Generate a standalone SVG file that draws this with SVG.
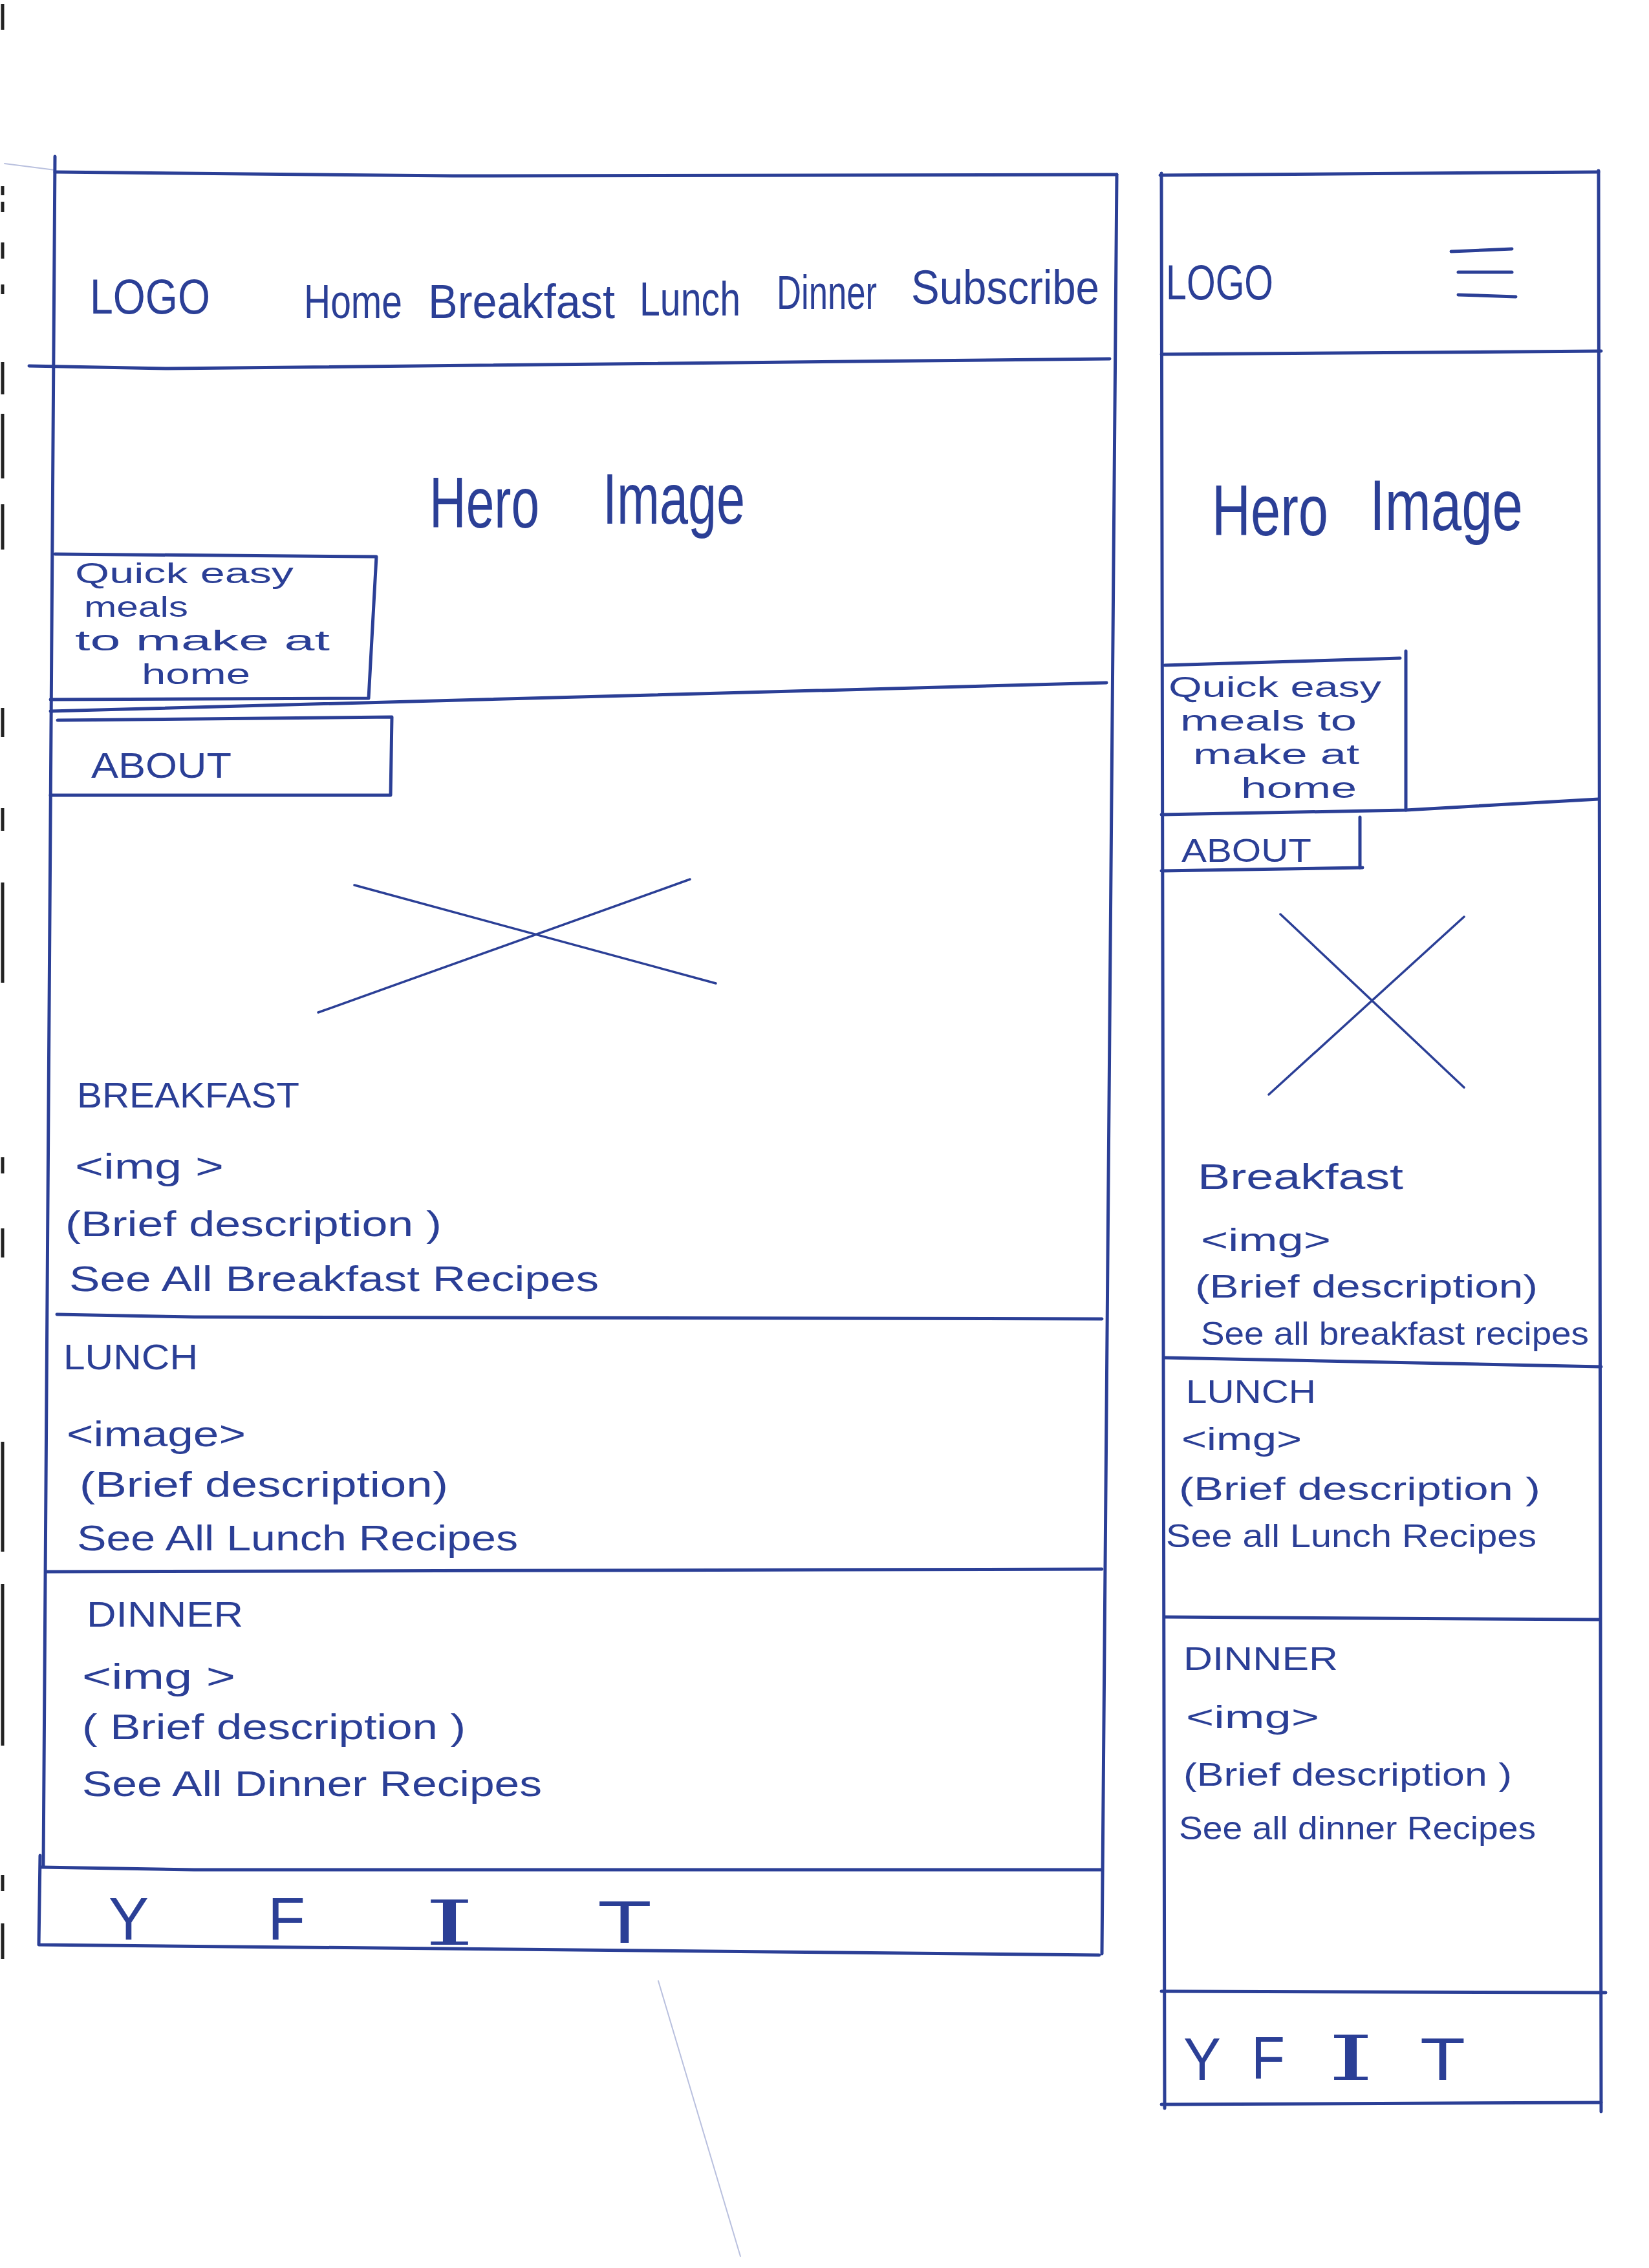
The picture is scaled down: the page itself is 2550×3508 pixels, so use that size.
<svg xmlns="http://www.w3.org/2000/svg" width="2550" height="3508" viewBox="0 0 2550 3508">
  <style>
    .pen { fill: none; stroke: #2b3f96; stroke-width: 5; stroke-linecap: round; stroke-linejoin: round; }
    .thin { fill: none; stroke: #2b3f96; stroke-width: 3.5; stroke-linecap: round; }
    .faint { fill: none; stroke: #8a96c8; stroke-width: 2; stroke-linecap: round; opacity: 0.6; }
    .txt { font-family: "Liberation Sans", "Noto Sans", sans-serif; fill: #2b3f96; }
    .nav { font-size: 74px; }
    .logo { font-size: 76px; }
    .hero { font-size: 112px; }
    .body { font-size: 56px; }
    .mbody { font-size: 50px; }
    .tag { font-size: 44px; }
    .icon { font-size: 92px; }
    .bar-i { font-family: "DejaVu Serif", "Liberation Serif", serif; font-size: 96px; fill: #2b3f96; }
    .margin { fill: none; stroke: #222222; stroke-width: 5; }
  </style>

  <rect width="2550" height="3508" fill="#ffffff"/>

  <!-- binder margin marks along the left edge -->
  <g id="margin-marks">
    <line class="margin" x1="4" y1="6" x2="4" y2="46"/>
    <line class="margin" x1="4" y1="288" x2="4" y2="302"/>
    <line class="margin" x1="4" y1="312" x2="4" y2="328"/>
    <line class="margin" x1="4" y1="375" x2="4" y2="400"/>
    <line class="margin" x1="4" y1="440" x2="4" y2="455"/>
    <line class="margin" x1="4" y1="560" x2="4" y2="610"/>
    <line class="margin" x1="4" y1="640" x2="4" y2="740"/>
    <line class="margin" x1="4" y1="780" x2="4" y2="850"/>
    <line class="margin" x1="4" y1="1095" x2="4" y2="1140"/>
    <line class="margin" x1="4" y1="1250" x2="4" y2="1285"/>
    <line class="margin" x1="4" y1="1365" x2="4" y2="1520"/>
    <line class="margin" x1="4" y1="1790" x2="4" y2="1815"/>
    <line class="margin" x1="4" y1="1900" x2="4" y2="1945"/>
    <line class="margin" x1="4" y1="2230" x2="4" y2="2400"/>
    <line class="margin" x1="4" y1="2450" x2="4" y2="2700"/>
    <line class="margin" x1="4" y1="2900" x2="4" y2="2925"/>
    <line class="margin" x1="4" y1="2975" x2="4" y2="3030"/>
  </g>

  <!-- ===================== desktop layout ===================== -->
  <g id="desktop-frame">
    <path class="faint" d="M7,253 L85,263"/>
    <path class="pen" d="M85,242 L67,2886"/>
    <path class="pen" d="M85,266 L700,272 L1727,270"/>
    <path class="pen" d="M1727,270 L1704,3022"/>
  </g>

  <g id="desktop-header">
    <path class="pen" d="M45,566 L260,570 L1716,555"/>
    <text class="txt logo" x="139" y="485" textLength="186" lengthAdjust="spacingAndGlyphs">LOGO</text>
    <text class="txt nav" x="470" y="492" textLength="152" lengthAdjust="spacingAndGlyphs">Home</text>
    <text class="txt nav" x="662" y="492" textLength="289" lengthAdjust="spacingAndGlyphs">Breakfast</text>
    <text class="txt nav" x="989" y="488" textLength="156" lengthAdjust="spacingAndGlyphs">Lunch</text>
    <text class="txt nav" x="1201" y="478" textLength="155" lengthAdjust="spacingAndGlyphs">Dinner</text>
    <text class="txt nav" x="1409" y="470" textLength="291" lengthAdjust="spacingAndGlyphs">Subscribe</text>
  </g>

  <g id="desktop-hero">
    <text class="txt hero" x="664" y="816" textLength="170" lengthAdjust="spacingAndGlyphs">Hero</text>
    <text class="txt hero" x="932" y="810" textLength="220" lengthAdjust="spacingAndGlyphs">Image</text>
    <path class="pen" d="M78,1100 L1711,1056"/>
  </g>

  <g id="desktop-tagline">
    <path class="pen" d="M85,857 L582,861 L570,1080 L78,1082"/>
    <text class="txt tag" x="116" y="902" textLength="338" lengthAdjust="spacingAndGlyphs">Quick easy</text>
    <text class="txt tag" x="130" y="954" textLength="161" lengthAdjust="spacingAndGlyphs">meals</text>
    <text class="txt tag" x="116" y="1006" textLength="394" lengthAdjust="spacingAndGlyphs">to make at</text>
    <text class="txt tag" x="219" y="1058" textLength="168" lengthAdjust="spacingAndGlyphs">home</text>
  </g>

  <g id="desktop-about">
    <path class="pen" d="M89,1114 L606,1109 L604,1230 L78,1230"/>
    <text class="txt body" x="141" y="1203" textLength="217" lengthAdjust="spacingAndGlyphs">ABOUT</text>
    <path class="thin" d="M548,1369 L1107,1521"/>
    <path class="thin" d="M492,1566 L1067,1360"/>
  </g>

  <g id="desktop-breakfast">
    <text class="txt body" x="119" y="1713" textLength="344" lengthAdjust="spacingAndGlyphs">BREAKFAST</text>
    <text class="txt body" x="116" y="1823" textLength="230" lengthAdjust="spacingAndGlyphs">&lt;img &gt;</text>
    <text class="txt body" x="101" y="1912" textLength="582" lengthAdjust="spacingAndGlyphs">(Brief description )</text>
    <text class="txt body" x="107" y="1997" textLength="819" lengthAdjust="spacingAndGlyphs">See All Breakfast Recipes</text>
    <path class="pen" d="M88,2033 L300,2037 L1704,2040"/>
  </g>

  <g id="desktop-lunch">
    <text class="txt body" x="98" y="2118" textLength="208" lengthAdjust="spacingAndGlyphs">LUNCH</text>
    <text class="txt body" x="103" y="2237" textLength="277" lengthAdjust="spacingAndGlyphs">&lt;image&gt;</text>
    <text class="txt body" x="123" y="2315" textLength="570" lengthAdjust="spacingAndGlyphs">(Brief description)</text>
    <text class="txt body" x="119" y="2398" textLength="682" lengthAdjust="spacingAndGlyphs">See All Lunch Recipes</text>
    <path class="pen" d="M72,2431 L1704,2427"/>
  </g>

  <g id="desktop-dinner">
    <text class="txt body" x="134" y="2516" textLength="242" lengthAdjust="spacingAndGlyphs">DINNER</text>
    <text class="txt body" x="127" y="2612" textLength="237" lengthAdjust="spacingAndGlyphs">&lt;img &gt;</text>
    <text class="txt body" x="127" y="2690" textLength="593" lengthAdjust="spacingAndGlyphs">( Brief description )</text>
    <text class="txt body" x="127" y="2778" textLength="711" lengthAdjust="spacingAndGlyphs">See All Dinner Recipes</text>
  </g>

  <g id="desktop-footer">
    <path class="pen" d="M63,2888 L300,2892 L1704,2892"/>
    <path class="pen" d="M62,2870 L60,3008 L1700,3024"/>
    <text class="txt icon" x="168" y="3000" textLength="62" lengthAdjust="spacingAndGlyphs">Y</text>
    <text class="txt icon" x="414" y="3000" textLength="58" lengthAdjust="spacingAndGlyphs">F</text>
    <text class="bar-i" x="655" y="3008" textLength="80" lengthAdjust="spacingAndGlyphs">I</text>
    <text class="txt icon" x="924" y="3005" textLength="84" lengthAdjust="spacingAndGlyphs">T</text>
  </g>

  <!-- ===================== mobile layout ===================== -->
  <g id="mobile-frame">
    <path class="pen" d="M1794,271 L2472,266"/>
    <path class="pen" d="M1796,268 L1801,3261"/>
    <path class="pen" d="M2472,264 L2476,3266"/>
  </g>

  <g id="mobile-header">
    <text class="txt logo" x="1803" y="463" textLength="166" lengthAdjust="spacingAndGlyphs">LOGO</text>
    <path class="pen" d="M2244,389 L2338,385"/>
    <path class="pen" d="M2255,421 L2338,421"/>
    <path class="pen" d="M2255,456 L2344,459"/>
    <path class="pen" d="M1796,548 L2476,543"/>
  </g>

  <g id="mobile-hero">
    <text class="txt hero" x="1874" y="828" textLength="180" lengthAdjust="spacingAndGlyphs">Hero</text>
    <text class="txt hero" x="2118" y="820" textLength="237" lengthAdjust="spacingAndGlyphs">Image</text>
  </g>

  <g id="mobile-tagline">
    <path class="pen" d="M1801,1029 L2165,1018"/>
    <path class="pen" d="M2174,1007 L2174,1253"/>
    <path class="pen" d="M1796,1260 L2174,1253 L2472,1236"/>
    <text class="txt tag" x="1807" y="1078" textLength="329" lengthAdjust="spacingAndGlyphs">Quick easy</text>
    <text class="txt tag" x="1825" y="1130" textLength="273" lengthAdjust="spacingAndGlyphs">meals to</text>
    <text class="txt tag" x="1845" y="1182" textLength="257" lengthAdjust="spacingAndGlyphs">make at</text>
    <text class="txt tag" x="1919" y="1234" textLength="179" lengthAdjust="spacingAndGlyphs">home</text>
  </g>

  <g id="mobile-about">
    <path class="pen" d="M2103,1264 L2103,1342"/>
    <path class="pen" d="M1796,1347 L2107,1342"/>
    <text class="txt mbody" x="1827" y="1333" textLength="201" lengthAdjust="spacingAndGlyphs">ABOUT</text>
    <path class="thin" d="M1980,1414 L2264,1682"/>
    <path class="thin" d="M1962,1693 L2264,1418"/>
  </g>

  <g id="mobile-breakfast">
    <text class="txt body" x="1852" y="1839" textLength="318" lengthAdjust="spacingAndGlyphs">Breakfast</text>
    <text class="txt mbody" x="1857" y="1935" textLength="201" lengthAdjust="spacingAndGlyphs">&lt;img&gt;</text>
    <text class="txt mbody" x="1848" y="2007" textLength="530" lengthAdjust="spacingAndGlyphs">(Brief description)</text>
    <text class="txt mbody" x="1857" y="2080" textLength="600" lengthAdjust="spacingAndGlyphs">See all breakfast recipes</text>
    <path class="pen" d="M1801,2100 L2476,2114"/>
  </g>

  <g id="mobile-lunch">
    <text class="txt mbody" x="1834" y="2170" textLength="201" lengthAdjust="spacingAndGlyphs">LUNCH</text>
    <text class="txt mbody" x="1827" y="2243" textLength="186" lengthAdjust="spacingAndGlyphs">&lt;img&gt;</text>
    <text class="txt mbody" x="1823" y="2320" textLength="559" lengthAdjust="spacingAndGlyphs">(Brief description )</text>
    <text class="txt mbody" x="1803" y="2393" textLength="573" lengthAdjust="spacingAndGlyphs">See all Lunch Recipes</text>
    <path class="pen" d="M1801,2501 L2472,2505"/>
  </g>

  <g id="mobile-dinner">
    <text class="txt mbody" x="1830" y="2583" textLength="239" lengthAdjust="spacingAndGlyphs">DINNER</text>
    <text class="txt mbody" x="1834" y="2673" textLength="206" lengthAdjust="spacingAndGlyphs">&lt;img&gt;</text>
    <text class="txt mbody" x="1830" y="2762" textLength="508" lengthAdjust="spacingAndGlyphs">(Brief description )</text>
    <text class="txt mbody" x="1823" y="2845" textLength="552" lengthAdjust="spacingAndGlyphs">See all dinner Recipes</text>
  </g>

  <g id="mobile-footer">
    <path class="pen" d="M1796,3080 L2483,3082"/>
    <text class="txt icon" x="1830" y="3217" textLength="58" lengthAdjust="spacingAndGlyphs">Y</text>
    <text class="txt icon" x="1935" y="3215" textLength="52" lengthAdjust="spacingAndGlyphs">F</text>
    <text class="bar-i" x="2053" y="3217" textLength="72" lengthAdjust="spacingAndGlyphs">I</text>
    <text class="txt icon" x="2196" y="3217" textLength="70" lengthAdjust="spacingAndGlyphs">T</text>
    <path class="pen" d="M1796,3255 L2476,3252"/>
  </g>

  <!-- stray pencil stroke below the desktop footer -->
  <g id="pencil-stroke">
    <path class="faint" d="M1018,3064 L1145,3490"/>
  </g>

  <g id="connectors"/>
</svg>
